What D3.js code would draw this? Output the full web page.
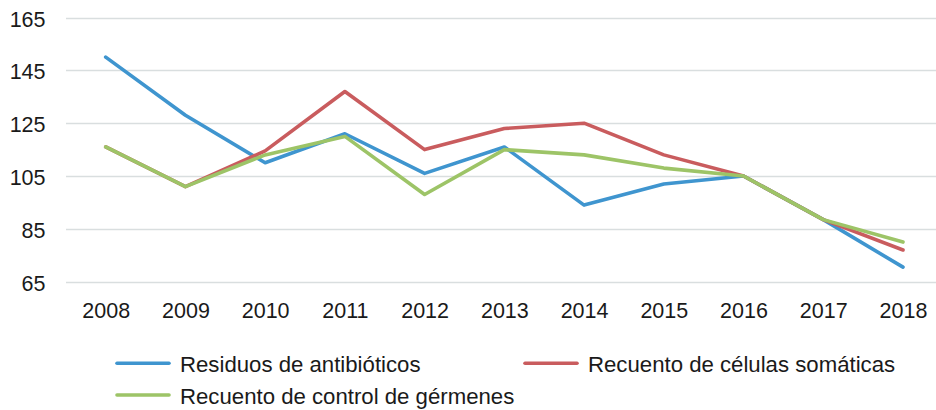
<!DOCTYPE html>
<html>
<head>
<meta charset="utf-8">
<script src="https://cdn.jsdelivr.net/npm/d3@7"></script>
<style>
  html, body { margin: 0; padding: 0; background: #fff; }
  svg text { font-family: "Liberation Sans", Arial, sans-serif; fill: #1a1a1a; }
</style>
</head>
<body>
<svg id="chart" width="936" height="410"></svg>
<script>
// Years on the horizontal axis
const years = ["2008", "2009", "2010", "2011", "2012", "2013", "2014", "2015", "2016", "2017", "2018"];

// Index values per indicator
const residuosAntibioticos = [150, 128, 110, 121, 106, 116, 94, 102, 105, 88.5, 70.5];
const celulasSomaticas     = [116, 101, 114.5, 137, 115, 123, 125, 113, 105, 88.5, 77];
const controlGermenes      = [116, 101, 113, 120, 98, 115, 113, 108, 105, 88.5, 80];

// Y-axis tick values
const yTicks = [65, 85, 105, 125, 145, 165];

const seriesNames = ["Residuos de antibióticos", "Recuento de células somáticas", "Recuento de control de gérmenes"];
const seriesColors = ["#3F95CF", "#C95C5E", "#9DC467"];

const series = [
  { name: seriesNames[0], color: seriesColors[0], values: residuosAntibioticos },
  { name: seriesNames[1], color: seriesColors[1], values: celulasSomaticas },
  { name: seriesNames[2], color: seriesColors[2], values: controlGermenes }
];

const svg = d3.select("#chart");

const x = d3.scalePoint().domain(years).range([105.7, 903]);
const y = d3.scaleLinear().domain([65, 165]).range([281.7, 17.5]);

// Horizontal gridlines
svg.append("g")
  .selectAll("line")
  .data(yTicks)
  .join("line")
  .attr("x1", 66)
  .attr("x2", 936)
  .attr("y1", d => Math.round(y(d)) + 0.5)
  .attr("y2", d => Math.round(y(d)) + 0.5)
  .attr("stroke", "#D9DEDF")
  .attr("stroke-width", 1.5);

// Y axis labels
const yAxis = d3.axisLeft(y).tickValues(yTicks).tickSize(0).tickPadding(0);
svg.append("g")
  .attr("transform", "translate(45.5,0)")
  .call(yAxis)
  .call(g => g.select(".domain").remove())
  .call(g => g.selectAll("text")
    .attr("font-size", 21.5)
    .attr("font-family", "Liberation Sans, Arial, sans-serif")
    .attr("fill", "#1a1a1a")
    .attr("text-anchor", "end")
    .attr("dy", "0.4em"));

// X axis labels
const xAxis = d3.axisBottom(x).tickSize(0).tickPadding(0);
svg.append("g")
  .attr("transform", "translate(0,302.4)")
  .call(xAxis)
  .call(g => g.select(".domain").remove())
  .call(g => g.selectAll("text")
    .attr("font-size", 21.5)
    .attr("font-family", "Liberation Sans, Arial, sans-serif")
    .attr("fill", "#1a1a1a")
    .attr("dy", "0.71em"));

// Lines (drawn so green sits on top where values coincide)
const line = d3.line()
  .x((d, i) => x(years[i]))
  .y(d => y(d));

svg.append("g")
  .selectAll("path")
  .data(series)
  .join("path")
  .attr("d", d => line(d.values))
  .attr("fill", "none")
  .attr("stroke", d => d.color)
  .attr("stroke-width", 3.6)
  .attr("stroke-linejoin", "round")
  .attr("stroke-linecap", "round");

// Legend
const legendItems = [
  { s: series[0], x: 117, y: 363.3 },
  { s: series[1], x: 525, y: 363.3 },
  { s: series[2], x: 117, y: 395 }
];
const lg = svg.append("g").selectAll("g").data(legendItems).join("g")
  .attr("transform", d => `translate(${d.x},${d.y})`);
lg.append("line")
  .attr("x1", 0).attr("x2", 52)
  .attr("y1", 0).attr("y2", 0)
  .attr("stroke", d => d.s.color)
  .attr("stroke-width", 3.6)
  .attr("stroke-linecap", "round");
lg.append("text")
  .attr("x", 63)
  .attr("y", 0)
  .attr("dy", "0.41em")
  .attr("font-size", 22.2)
  .text(d => d.s.name);
</script>
</body>
</html>
